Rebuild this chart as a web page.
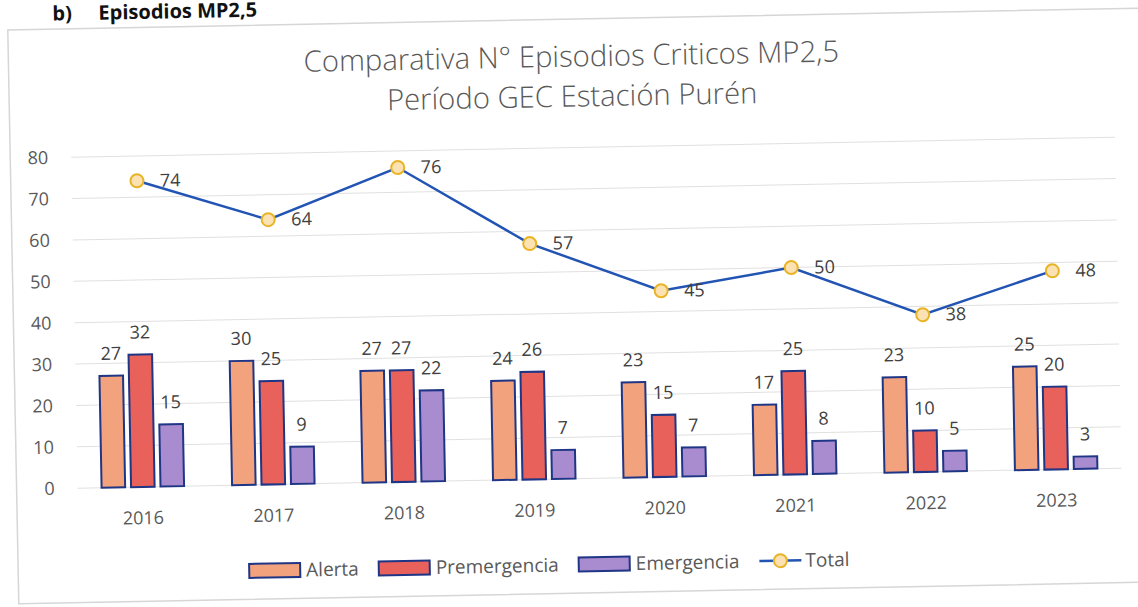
<!DOCTYPE html>
<html>
<head>
<meta charset="utf-8">
<script src="https://cdn.jsdelivr.net/npm/d3@7"></script>
<style>
  body { margin: 0; background: #fff; }
  text { font-family: "Open Sans", sans-serif; }
</style>
</head>
<body>
<div id="chart"></div>
<script>
"use strict";
// values
var years = ["2016", "2017", "2018", "2019", "2020", "2021", "2022", "2023"];
var alerta = [27, 30, 27, 24, 23, 17, 23, 25];
var premergencia = [32, 25, 27, 26, 15, 25, 10, 20];
var emergencia = [15, 9, 22, 7, 7, 8, 5, 3];
var total = [74, 64, 76, 57, 45, 50, 38, 48];
var yTicks = [0, 10, 20, 30, 40, 50, 60, 70, 80];
var seriesNames = ["Alerta", "Premergencia", "Emergencia"];
var seriesColors = ["#f2a27c", "#e8615a", "#a98bd0"];

var w = 1138,
  h = 607;

var svg = d3
  .select("#chart")
  .append("svg")
  .attr("width", w)
  .attr("height", h);

// the scan is slightly tilted, so tilt the whole page a bit
var root = svg.append("g").attr("transform", "rotate(-1.1,137,300)");

root
  .append("rect")
  .attr("x", 13)
  .attr("y", 27.5)
  .attr("width", 1160)
  .attr("height", 574)
  .attr("fill", "none")
  .attr("stroke", "#d6d6d6")
  .attr("stroke-width", 1.5);

// header of the document section
root
  .append("text")
  .attr("x", 58)
  .attr("y", 19)
  .attr("font-size", 20)
  .attr("font-weight", 700)
  .attr("fill", "#111")
  .text("b)");
root
  .append("text")
  .attr("x", 104)
  .attr("y", 19)
  .attr("font-size", 20)
  .attr("font-weight", 700)
  .attr("fill", "#111")
  .text("Episodios MP2,5");

// title, sized to fit the width seen in the picture
var t1 = root
  .append("text")
  .attr("x", 576)
  .attr("y", 75)
  .attr("text-anchor", "middle")
  .attr("fill", "#595959")
  .attr("font-weight", 300)
  .attr("font-size", 30)
  .text("Comparativa N° Episodios Criticos MP2,5");
var fs = 30 * 536 / t1.node().getComputedTextLength();
t1.attr("font-size", fs);
root
  .append("text")
  .attr("x", 576)
  .attr("y", 115)
  .attr("text-anchor", "middle")
  .attr("fill", "#595959")
  .attr("font-weight", 300)
  .attr("font-size", fs)
  .text("Período GEC Estación Purén");

var x = d3
  .scaleBand()
  .domain(years)
  .range([74, 1118]);

var xs = d3
  .scaleBand()
  .domain(seriesNames)
  .range([-41.25, 41.25])
  .paddingInner(0.2);

var y = d3
  .scaleLinear()
  .domain([0, 80])
  .range([487, 156]);

function cx(d) {
  return x(d) + x.bandwidth() / 2;
}

//grid
root
  .append("g")
  .selectAll("line")
  .data(yTicks)
  .join("line")
  .attr("x1", 74)
  .attr("x2", 1118)
  .attr("y1", function(d) {
    return y(d);
  })
  .attr("y2", function(d) {
    return y(d);
  })
  .attr("stroke", "#e0e0e0")
  .attr("stroke-width", 1);

root
  .append("g")
  .selectAll("text")
  .data(yTicks)
  .join("text")
  .attr("x", 51)
  .attr("y", function(d) {
    return y(d);
  })
  .attr("dy", "0.35em")
  .attr("text-anchor", "end")
  .attr("font-size", 18)
  .attr("fill", "#595959")
  .text(function(d) {
    return d;
  });

root
  .append("g")
  .selectAll("text")
  .data(years)
  .join("text")
  .attr("x", cx)
  .attr("y", 518)
  .attr("dy", "0.35em")
  .attr("text-anchor", "middle")
  .attr("font-size", 18)
  .attr("fill", "#595959")
  .text(function(d) {
    return d;
  });

// bars
var seriesValues = [alerta, premergencia, emergencia];
var barData = [];
years.forEach(function(yr, i) {
  seriesNames.forEach(function(s, j) {
    barData.push({ year: yr, series: s, value: seriesValues[j][i], k: j });
  });
});

root
  .append("g")
  .selectAll("rect")
  .data(barData)
  .join("rect")
  .attr("x", function(d) {
    return cx(d.year) + xs(d.series);
  })
  .attr("y", function(d) {
    return y(d.value);
  })
  .attr("width", xs.bandwidth())
  .attr("height", function(d) {
    return y(0) - y(d.value);
  })
  .attr("fill", function(d) {
    return seriesColors[d.k];
  })
  .attr("stroke", "#1f3585")
  .attr("stroke-width", 2);

root
  .append("g")
  .selectAll("text")
  .data(barData)
  .join("text")
  .attr("x", function(d) {
    return cx(d.year) + xs(d.series) + xs.bandwidth() / 2;
  })
  .attr("y", function(d) {
    return y(d.value) - 16;
  })
  .attr("text-anchor", "middle")
  .attr("font-size", 18)
  .attr("fill", "#404040")
  .text(function(d) {
    return d.value;
  });

// total line
var line = d3
  .line()
  .x(function(d, i) {
    return cx(years[i]);
  })
  .y(function(d) {
    return y(d);
  });

root
  .append("path")
  .datum(total)
  .attr("d", line)
  .attr("fill", "none")
  .attr("stroke", "#2254b4")
  .attr("stroke-width", 2.5);

root
  .append("g")
  .selectAll("circle")
  .data(total)
  .join("circle")
  .attr("cx", function(d, i) {
    return cx(years[i]);
  })
  .attr("cy", function(d) {
    return y(d);
  })
  .attr("r", 6.5)
  .attr("fill", "#fce2b2")
  .attr("stroke", "#e8b426")
  .attr("stroke-width", 2);

root
  .append("g")
  .selectAll("text")
  .data(total)
  .join("text")
  .attr("x", function(d, i) {
    return cx(years[i]) + 23;
  })
  .attr("y", function(d) {
    return y(d);
  })
  .attr("dy", "0.35em")
  .attr("font-size", 18)
  .attr("fill", "#404040")
  .text(function(d) {
    return d;
  });

// legend
var legend = root.append("g");
var lx = 244,
  ly = 573;
seriesNames.forEach(function(s, j) {
  legend
    .append("rect")
    .attr("x", lx)
    .attr("y", ly - 7)
    .attr("width", 51)
    .attr("height", 14)
    .attr("fill", seriesColors[j])
    .attr("stroke", "#1f3585")
    .attr("stroke-width", 2);
  var tx = legend
    .append("text")
    .attr("x", lx + 57)
    .attr("y", ly)
    .attr("dy", "0.35em")
    .attr("font-size", 19)
    .attr("fill", "#595959")
    .text(s);
  lx += 57 + tx.node().getComputedTextLength() + 20;
});
legend
  .append("line")
  .attr("x1", lx)
  .attr("x2", lx + 42)
  .attr("y1", ly)
  .attr("y2", ly)
  .attr("stroke", "#2254b4")
  .attr("stroke-width", 2.5);
legend
  .append("circle")
  .attr("cx", lx + 21)
  .attr("cy", ly)
  .attr("r", 6.5)
  .attr("fill", "#fce2b2")
  .attr("stroke", "#e8b426")
  .attr("stroke-width", 2);
legend
  .append("text")
  .attr("x", lx + 46)
  .attr("y", ly)
  .attr("dy", "0.35em")
  .attr("font-size", 19)
  .attr("fill", "#595959")
  .text("Total");
</script>
</body>
</html>
